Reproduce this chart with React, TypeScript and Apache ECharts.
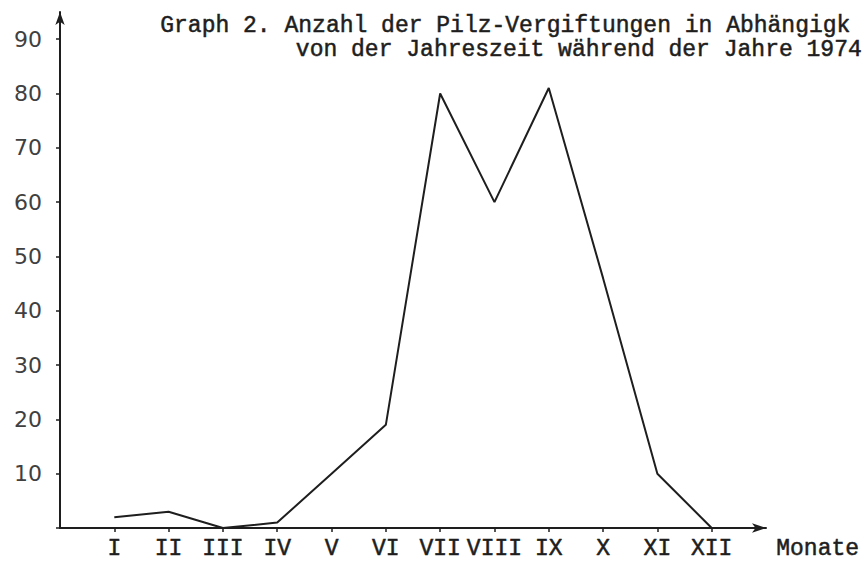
import React, { useEffect, useRef } from "react";
import * as echarts from "echarts";

const months = ["I", "II", "III", "IV", "V", "VI", "VII", "VIII", "IX", "X", "XI", "XII"];
const cases = [2, 3, 0, 1, 10, 19, 80, 60, 81, 46, 10, 0];
const yTicks = [10, 20, 30, 40, 50, 60, 70, 80, 90];
const titleLine1 = "Graph 2. Anzahl der Pilz-Vergiftungen in Abhängigk";
const titleLine2 = "von der Jahreszeit während der Jahre 1974";
const xName = "Monate";

const mono = "'Liberation Mono', 'DejaVu Sans Mono', monospace";
const sans = "'DejaVu Sans', 'Noto Sans', sans-serif";

export default function App() {
  const ref = useRef<HTMLDivElement>(null);
  useEffect(() => {
    document.body.style.margin = "0";
    if (!ref.current) return;
    const chart = echarts.init(ref.current, null, { renderer: "svg" });
    const ink = "#1e1e1e";
    const typeStyle = { fill: ink, stroke: ink, lineWidth: 0.5 };
    chart.setOption({
      animation: false,
      backgroundColor: "#ffffff",
      grid: { left: 60, right: 99, top: 12, bottom: 37, containLabel: false },
      xAxis: {
        type: "value",
        min: 0,
        max: months.length + 1,
        interval: 1,
        splitLine: { show: false },
        axisLine: {
          show: true,
          symbol: ["none", "arrow"],
          symbolSize: [7, 14],
          lineStyle: { color: ink, width: 2 },
        },
        axisTick: { show: true, length: 4, lineStyle: { color: ink, width: 1.5 } },
        axisLabel: {
          margin: 9,
          fontFamily: mono,
          fontSize: 23,
          color: ink,
          textBorderColor: ink,
          textBorderWidth: 0.5,
          showMaxLabel: false,
          showMinLabel: false,
          formatter: (v: number) => months[Math.round(v) - 1] ?? "",
        },
      },
      yAxis: {
        type: "value",
        min: 0,
        max: 95,
        interval: 10,
        splitLine: { show: false },
        axisLine: {
          show: true,
          symbol: ["none", "arrow"],
          symbolSize: [7, 13],
          lineStyle: { color: ink, width: 2 },
        },
        axisTick: { show: true, length: 4, lineStyle: { color: ink, width: 1.5 } },
        axisLabel: {
          margin: 18,
          fontFamily: sans,
          fontSize: 22,
          color: "#404040",
          showMaxLabel: false,
          formatter: (v: number) => (yTicks.includes(v) ? String(v) : ""),
        },
      },
      series: [
        {
          type: "line",
          data: months.map((m, i) => [i + 1, cases[i]]),
          symbol: "none",
          lineStyle: { color: ink, width: 2 },
        },
      ],
      graphic: [
        {
          type: "text",
          left: 160,
          top: 14,
          style: { text: titleLine1, font: `23px ${mono}`, ...typeStyle },
        },
        {
          type: "text",
          right: 3,
          top: 38,
          style: { text: titleLine2, font: `23px ${mono}`, ...typeStyle },
        },
        {
          type: "text",
          left: 776,
          top: 537,
          style: { text: xName, font: `23px ${mono}`, ...typeStyle },
        },
      ],
    });
    return () => chart.dispose();
  }, []);
  return <div ref={ref} style={{ width: 865, height: 565 }} />;
}
